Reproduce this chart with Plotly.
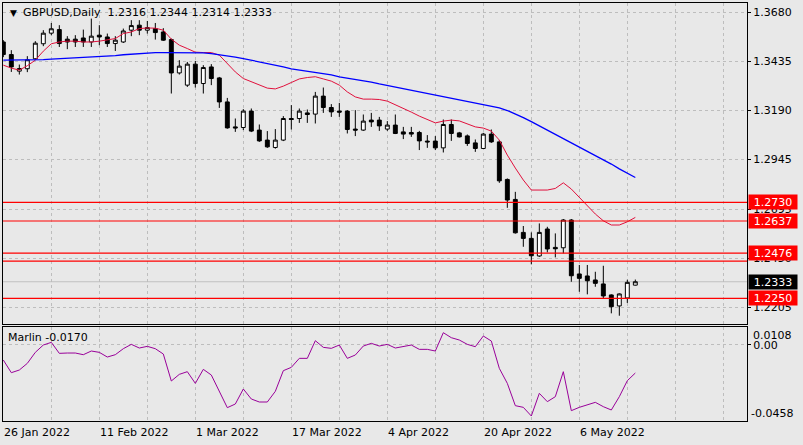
import pandas as pd
import plotly.graph_objects as go

# GBPUSD daily bars, 26 Jan 2022 .. 17 May 2022
dates = pd.bdate_range("2022-01-26", "2022-05-17")

opens = [1.3533, 1.3470, 1.3387, 1.3399, 1.3449, 1.3524, 1.3577, 1.3595, 1.3547, 1.3547,
         1.3553, 1.3533, 1.3567, 1.3558, 1.3525, 1.3533, 1.3592, 1.3617, 1.3592, 1.3600,
         1.3583, 1.3545, 1.3378, 1.3317, 1.3422, 1.3325, 1.3408, 1.3353, 1.3233, 1.3108,
         1.3105, 1.3187, 1.3092, 1.3042, 1.3005, 1.3042, 1.3150, 1.3150, 1.3178, 1.3172,
         1.3262, 1.3205, 1.3187, 1.3187, 1.3097, 1.3092, 1.3142, 1.3142, 1.3097, 1.3117,
         1.3083, 1.3080, 1.3080, 1.3037, 1.3037, 1.3003, 1.3120, 1.3078, 1.3063, 1.3028,
         1.3000, 1.3072, 1.3033, 1.2845, 1.2745, 1.2580, 1.2550, 1.2462, 1.2597, 1.2505,
         1.2503, 1.2642, 1.2372, 1.2362, 1.2342, 1.2322, 1.2267, 1.2212, 1.2252, 1.2316]
highs = [1.3542, 1.3492, 1.3420, 1.3462, 1.3537, 1.3592, 1.3628, 1.3617, 1.3562, 1.3567,
         1.3595, 1.3650, 1.3617, 1.3575, 1.3562, 1.3600, 1.3642, 1.3642, 1.3638, 1.3628,
         1.3602, 1.3550, 1.3442, 1.3433, 1.3438, 1.3417, 1.3422, 1.3358, 1.3253, 1.3150,
         1.3197, 1.3200, 1.3120, 1.3087, 1.3097, 1.3162, 1.3217, 1.3200, 1.3195, 1.3283,
         1.3305, 1.3222, 1.3228, 1.3192, 1.3192, 1.3170, 1.3178, 1.3158, 1.3137, 1.3170,
         1.3108, 1.3108, 1.3088, 1.3067, 1.3062, 1.3145, 1.3145, 1.3083, 1.3070, 1.3045,
         1.3078, 1.3095, 1.3042, 1.2850, 1.2783, 1.2612, 1.2580, 1.2625, 1.2608, 1.2575,
         1.2647, 1.2647, 1.2417, 1.2417, 1.2383, 1.2413, 1.2270, 1.2275, 1.2343, 1.2344]
lows = [1.3457, 1.3383, 1.3370, 1.3382, 1.3442, 1.3512, 1.3567, 1.3508, 1.3497, 1.3508,
        1.3508, 1.3508, 1.3517, 1.3508, 1.3488, 1.3528, 1.3562, 1.3567, 1.3575, 1.3545,
        1.3538, 1.3275, 1.3370, 1.3308, 1.3305, 1.3275, 1.3317, 1.3203, 1.3099, 1.3083,
        1.3092, 1.3082, 1.3033, 1.3003, 1.2999, 1.3037, 1.3095, 1.3128, 1.3128, 1.3125,
        1.3178, 1.3158, 1.3158, 1.3075, 1.3062, 1.3088, 1.3108, 1.3088, 1.3088, 1.3072,
        1.3047, 1.3058, 1.2992, 1.3003, 1.2992, 1.2980, 1.3038, 1.3055, 1.3013, 1.2983,
        1.2998, 1.3028, 1.2828, 1.2703, 1.2574, 1.2508, 1.2420, 1.2457, 1.2480, 1.2455,
        1.2475, 1.2333, 1.2283, 1.2270, 1.2308, 1.2250, 1.2175, 1.2163, 1.2227, 1.2314]
closes = [1.3470, 1.3408, 1.3400, 1.3444, 1.3527, 1.3577, 1.3599, 1.3525, 1.3533, 1.3533,
          1.3533, 1.3562, 1.3558, 1.3525, 1.3542, 1.3588, 1.3615, 1.3592, 1.3605, 1.3580,
          1.3542, 1.3378, 1.3412, 1.3422, 1.3325, 1.3405, 1.3350, 1.3233, 1.3103, 1.3103,
          1.3187, 1.3087, 1.3038, 1.3008, 1.3042, 1.3150, 1.3145, 1.3187, 1.3170, 1.3262,
          1.3205, 1.3183, 1.3182, 1.3095, 1.3092, 1.3137, 1.3133, 1.3113, 1.3117, 1.3075,
          1.3072, 1.3072, 1.3038, 1.3033, 1.3003, 1.3120, 1.3075, 1.3058, 1.3025, 1.3000,
          1.3072, 1.3033, 1.2838, 1.2742, 1.2578, 1.2550, 1.2463, 1.2580, 1.2497, 1.2498,
          1.2642, 1.2363, 1.2350, 1.2338, 1.2325, 1.2262, 1.2208, 1.2272, 1.2330, 1.2333]

# moving averages (red = fast, blue = slow)
ma_fast = [1.3417, 1.3402, 1.3392, 1.3414, 1.3442, 1.3487, 1.3524, 1.3533, 1.3537, 1.3537,
           1.3533, 1.3533, 1.3537, 1.3542, 1.3550, 1.3575, 1.3583, 1.3600, 1.3603, 1.3602,
           1.3592, 1.3547, 1.3517, 1.3500, 1.3482, 1.3480, 1.3480, 1.3467, 1.3427, 1.3383,
           1.3350, 1.3333, 1.3317, 1.3302, 1.3298, 1.3312, 1.3330, 1.3348, 1.3355, 1.3359,
           1.3348, 1.3337, 1.3317, 1.3283, 1.3258, 1.3247, 1.3247, 1.3245, 1.3237, 1.3220,
           1.3200, 1.3182, 1.3162, 1.3145, 1.3128, 1.3137, 1.3142, 1.3138, 1.3122, 1.3108,
           1.3102, 1.3087, 1.3042, 1.2967, 1.2902, 1.2842, 1.2792, 1.2792, 1.2792, 1.2800,
           1.2828, 1.2797, 1.2755, 1.2712, 1.2672, 1.2638, 1.2617, 1.2617, 1.2633, 1.2655]
ma_slow = [1.3442, 1.3442, 1.3442, 1.3443, 1.3444, 1.3445, 1.3447, 1.3449, 1.3452, 1.3453,
           1.3455, 1.3457, 1.3458, 1.3462, 1.3465, 1.3469, 1.3472, 1.3475, 1.3478, 1.3480,
           1.3480, 1.3480, 1.3480, 1.3480, 1.3480, 1.3478, 1.3475, 1.3470, 1.3463, 1.3457,
           1.3450, 1.3442, 1.3433, 1.3427, 1.3418, 1.3408, 1.3398, 1.3392, 1.3385, 1.3380,
           1.3375, 1.3368, 1.3358, 1.3352, 1.3345, 1.3340, 1.3332, 1.3323, 1.3315, 1.3307,
           1.3298, 1.3292, 1.3283, 1.3275, 1.3267, 1.3258, 1.3250, 1.3242, 1.3233, 1.3227,
           1.3220, 1.3212, 1.3203, 1.3190, 1.3173, 1.3154, 1.3134, 1.3113, 1.3092, 1.3072,
           1.3050, 1.3030, 1.3008, 1.2987, 1.2965, 1.2943, 1.2922, 1.2898, 1.2877, 1.2855]

# Marlin oscillator (lower window)
marlin = [-0.0092, -0.0168, -0.0152, -0.0112, -0.0046, -0.0002, 0.0014, -0.0052, -0.0050, -0.0050,
          -0.0060, -0.0038, -0.0046, -0.0074, -0.0060, -0.0024, 0.0002, -0.0020, -0.0010, -0.0024,
          -0.0056, -0.0218, -0.0178, -0.0162, -0.0232, -0.0148, -0.0182, -0.0278, -0.0378, -0.0356,
          -0.0266, -0.0326, -0.0344, -0.0344, -0.0280, -0.0156, -0.0136, -0.0082, -0.0082, 0.0024,
          -0.0016, -0.0022, -0.0002, -0.0082, -0.0062, -0.0008, 0.0008, -0.0008, 0.0002, -0.0020,
          -0.0012, -0.0002, -0.0028, -0.0028, -0.0038, 0.0072, 0.0042, 0.0028, 0.0002, -0.0012,
          0.0052, 0.0022, -0.0142, -0.0232, -0.0366, -0.0376, -0.0428, -0.0292, -0.0342, -0.0312,
          -0.0162, -0.0396, -0.0376, -0.0362, -0.0346, -0.0372, -0.0392, -0.0312, -0.0216, -0.0170]

# horizontal levels drawn on the chart
levels = [1.2730, 1.2637, 1.2476, 1.2436, 1.2250]
level_labels = [1.2730, 1.2637, 1.2476, 1.2250]
bid = 1.2333

# price scale
price_ticks = [1.3680, 1.3435, 1.3190, 1.2945, 1.2695, 1.2450, 1.2205]
price_text = ["1.3680", "1.3435", "1.3190", "1.2945", "1.2695", "1.2450", "1.2205"]
marlin_max, marlin_min = 0.0108, -0.0458

# date labels
date_labels = ["26 Jan 2022", "11 Feb 2022", "1 Mar 2022", "17 Mar 2022",
               "4 Apr 2022", "20 Apr 2022", "6 May 2022"]

header = "GBPUSD,Daily\u00a0\u00a01.2316 1.2344 1.2314 1.2333"
marlin_title = "Marlin -0.0170"

bg = "#E8E8E8"
grid = "#BDBDBD"
x = list(range(len(dates)))
x_range = [-0.04, 92.96]
font = "DejaVu Sans"

fig = go.Figure()

fig.add_trace(go.Candlestick(
    x=x, open=opens, high=highs, low=lows, close=closes,
    increasing=dict(line=dict(color="black", width=1), fillcolor="white"),
    decreasing=dict(line=dict(color="black", width=1), fillcolor="black"),
    whiskerwidth=0, hoverinfo="skip", xaxis="x", yaxis="y"))
fig.add_trace(go.Scatter(x=x, y=ma_fast, mode="lines", line=dict(color="#E0103C", width=1),
                         xaxis="x", yaxis="y", hoverinfo="skip"))
fig.add_trace(go.Scatter(x=x, y=ma_slow, mode="lines", line=dict(color="#0000FF", width=1.3),
                         xaxis="x", yaxis="y", hoverinfo="skip"))
fig.add_trace(go.Scatter(x=x, y=marlin, mode="lines", line=dict(color="#990099", width=1),
                         xaxis="x2", yaxis="y2", hoverinfo="skip"))

# level lines + bid line
for lv in levels:
    fig.add_shape(type="line", xref="x domain", yref="y", x0=0, x1=1, y0=lv, y1=lv,
                  line=dict(color="#FF0000", width=1.2))
fig.add_shape(type="line", xref="x domain", yref="y", x0=0, x1=1, y0=bid, y1=bid,
              line=dict(color="#C0C0C0", width=1), layer="below")

annotations = []
for lv in level_labels:
    annotations.append(dict(x=1, xref="paper", y=lv, yref="y", xanchor="left", yanchor="middle",
                            xshift=1, text=f"{lv:.4f}", showarrow=False, width=46, height=12,
                            bgcolor="#FF0000", borderpad=1, font=dict(color="white", size=11, family=font)))
annotations.append(dict(x=1, xref="paper", y=bid, yref="y", xanchor="left", yanchor="middle",
                        xshift=1, text=f"{bid:.4f}", showarrow=False, width=46, height=12,
                        bgcolor="black", borderpad=1, font=dict(color="white", size=11, family=font)))

# date labels, left aligned on their bar
for lab in date_labels:
    idx = list(dates).index(pd.Timestamp(lab))
    annotations.append(dict(x=idx, xref="x2", y=0, yref="paper", xanchor="left", yanchor="top",
                            yshift=-3, xshift=-1, text=lab, showarrow=False,
                            font=dict(size=11, family=font, color="black")))

main_bottom = 0.2313
ind_top = 0.2256
annotations += [
    dict(x=0, xref="paper", y=1, yref="paper", xanchor="left", yanchor="middle", xshift=5, yshift=-9.5,
         text="\u25bc", showarrow=False, font=dict(size=9, family=font, color="black")),
    dict(x=0, xref="paper", y=1, yref="paper", xanchor="left", yanchor="middle", xshift=18, yshift=-9.5,
         text=header, showarrow=False, font=dict(size=11, family=font, color="black")),
    dict(x=0, xref="paper", y=ind_top, yref="paper", xanchor="left", yanchor="middle", xshift=3,
         yshift=-10.5, text=marlin_title, showarrow=False, font=dict(size=11, family=font, color="black")),
    dict(x=1, xref="paper", y=ind_top, yref="paper", xanchor="left", yanchor="middle", xshift=4,
         yshift=-8.5, text=f"{marlin_max:.4f}", showarrow=False, font=dict(size=11, family=font, color="black")),
    dict(x=1, xref="paper", y=0, yref="paper", xanchor="left", yanchor="middle", xshift=2,
         yshift=8, text=f"{marlin_min:.4f}", showarrow=False, font=dict(size=11, family=font, color="black")),
]

axis_common = dict(showline=True, mirror=True, linecolor="black", linewidth=1, zeroline=False,
                   gridcolor=grid, griddash="3px,3px", gridwidth=1)

fig.update_layout(
    width=803, height=445,
    margin=dict(l=3, r=56, t=3, b=24),
    paper_bgcolor=bg, plot_bgcolor=bg,
    showlegend=False,
    font=dict(family=font, size=11, color="black"),
    annotations=annotations,
    xaxis=dict(domain=[0, 1], anchor="y", range=x_range, tickvals=list(range(0, 93, 6)),
               showticklabels=False, ticks="", showgrid=True,
               rangeslider=dict(visible=False), **axis_common),
    yaxis=dict(domain=[main_bottom, 1], anchor="x", range=[1.2120, 1.3728], side="right",
               tickvals=price_ticks, ticktext=price_text, ticks="outside", ticklen=3,
               tickcolor="black", showgrid=True, **axis_common),
    xaxis2=dict(domain=[0, 1], anchor="y2", range=x_range, tickvals=list(range(0, 93, 6)),
                showticklabels=False, ticks="", showgrid=True, **axis_common),
    yaxis2=dict(domain=[0, ind_top], anchor="x2", range=[marlin_min, marlin_max], side="right",
                tickvals=[0], ticktext=["0.00"], ticks="outside", ticklen=3, tickcolor="black",
                showgrid=True, **axis_common),
)

# page body has a default 8px margin; drop it so the figure sits at the window corner
fig.write_html("out.html", config={"displayModeBar": False},
               post_script="document.body.style.margin='0px';")
